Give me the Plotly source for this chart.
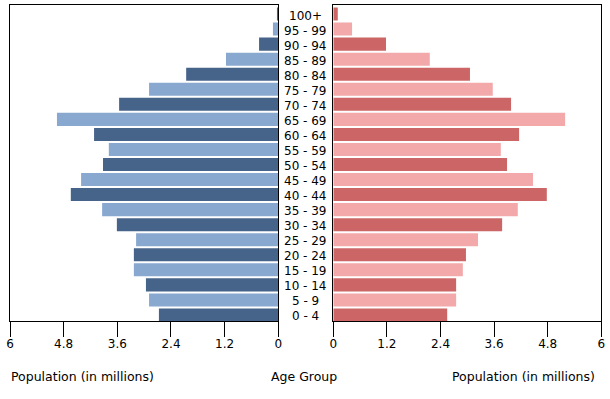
import plotly.graph_objects as go

age_groups = ["0 - 4", "5 - 9", "10 - 14", "15 - 19", "20 - 24", "25 - 29", "30 - 34",
              "35 - 39", "40 - 44", "45 - 49", "50 - 54", "55 - 59", "60 - 64", "65 - 69",
              "70 - 74", "75 - 79", "80 - 84", "85 - 89", "90 - 94", "95 - 99", "100+"]
male = [2.67, 2.89, 2.96, 3.23, 3.23, 3.18, 3.61, 3.94, 4.64, 4.41, 3.92,
        3.79, 4.12, 4.95, 3.56, 2.89, 2.06, 1.17, 0.43, 0.12, 0.03]
female = [2.55, 2.75, 2.75, 2.90, 2.97, 3.24, 3.78, 4.13, 4.78, 4.47, 3.89,
          3.75, 4.16, 5.19, 3.98, 3.57, 3.06, 2.16, 1.18, 0.42, 0.10]
tick_vals = [0, 1.2, 2.4, 3.6, 4.8, 6]
tick_text = ["0", "1.2", "2.4", "3.6", "4.8", "6"]

male_colors = ["#46638a" if i % 2 == 0 else "#88a8d0" for i in range(len(age_groups))]
female_colors = ["#cc6666" if i % 2 == 0 else "#f3a8aa" for i in range(len(age_groups))]

W, H = 610, 399
FONT = "DejaVu Sans"

fig = go.Figure()
fig.add_trace(go.Bar(y=list(range(len(age_groups))), x=male, orientation="h",
                     marker=dict(color=male_colors, line=dict(width=0)),
                     xaxis="x", yaxis="y", showlegend=False))
fig.add_trace(go.Bar(y=list(range(len(age_groups))), x=female, orientation="h",
                     marker=dict(color=female_colors, line=dict(width=0)),
                     xaxis="x2", yaxis="y2", showlegend=False))

axis_common = dict(showline=True, linecolor="black", linewidth=1, mirror=True,
                   showgrid=False, zeroline=False, ticks="outside", ticklen=15,
                   tickcolor="black", tickwidth=1, tickvals=tick_vals, ticktext=tick_text,
                   tickfont=dict(family=FONT, size=12, color="black"),
                   automargin=False, ticklabelstandoff=-3)
y_common = dict(showline=True, linecolor="black", linewidth=1, mirror=True,
                showgrid=False, zeroline=False, showticklabels=False, ticks="",
                range=[-0.4, 20.6], automargin=False)

annotations = []
for i, lab in enumerate(age_groups):
    annotations.append(dict(x=305.5 / W, xref="paper", y=i, yref="y", text=lab,
                            showarrow=False, xanchor="center", yanchor="middle", yshift=-1.5,
                            font=dict(family=FONT, size=12, color="black")))
title_y = (321 - 376) / 316
annotations += [
    dict(x=9 / W, xref="paper", y=title_y, yref="paper", text="Population (in millions)",
         showarrow=False, xanchor="left", yanchor="middle",
         font=dict(family=FONT, size=12.5, color="black")),
    dict(x=304 / W, xref="paper", y=title_y, yref="paper", text="Age Group",
         showarrow=False, xanchor="center", yanchor="middle",
         font=dict(family=FONT, size=12.5, color="black")),
    dict(x=523.7 / W, xref="paper", y=title_y, yref="paper", text="Population (in millions)",
         showarrow=False, xanchor="center", yanchor="middle",
         font=dict(family=FONT, size=12.5, color="black")),
]

fig.update_layout(
    width=W, height=H,
    margin=dict(l=0, r=0, t=5, b=78, pad=0),
    paper_bgcolor="white", plot_bgcolor="white",
    bargap=0.133,
    xaxis=dict(domain=[10 / W, 278.3 / W], range=[6, 0], anchor="y", **axis_common),
    xaxis2=dict(domain=[333.3 / W, 601.3 / W], range=[0, 6], anchor="y2", **axis_common),
    yaxis=dict(anchor="x", **y_common),
    yaxis2=dict(anchor="x2", matches="y", **y_common),
    annotations=annotations,
    font=dict(family=FONT, size=12, color="black"),
)

fig.write_html("out.html")
